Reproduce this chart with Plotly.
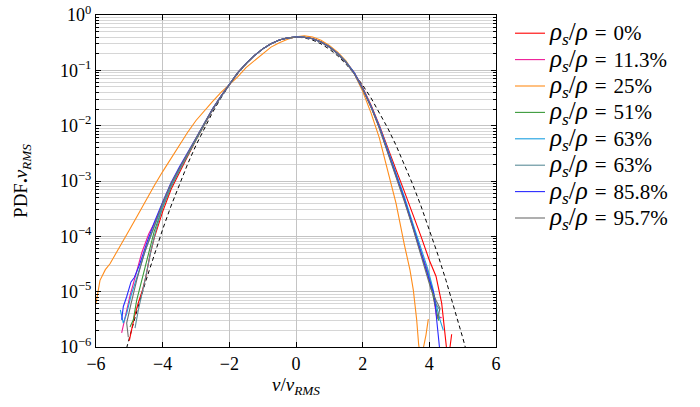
import plotly.graph_objects as go

# ---------------- data ----------------
core_x = [-4.0, -3.75, -3.5, -3.25, -3.0, -2.75, -2.5, -2.25, -2.0, -1.75, -1.5, -1.25,
          -1.0, -0.75, -0.5, -0.25, 0.0, 0.25, 0.5, 0.75, 1.0, 1.25, 1.5, 1.75,
          2.0, 2.25, 2.5, 2.75, 3.0, 3.25, 3.5, 3.75]

labels = ["0%", "11.3%", "25%", "51%", "63%", "63%", "85.8%", "95.7%"]
colors = ["#ff0000", "#ee1a96", "#ff8c1a", "#3a9a3a", "#1a9fe0", "#5b8c99", "#2a2aff", "#6e6e6e"]

# rho_s/rho = 0%
red_left_x = [-5.0, -4.85, -4.73, -4.6, -4.5, -4.38, -4.25]
red_left_y = [1.3e-6, 3.5e-6, 6.3e-6, 1.1e-5, 1.9e-5, 4.6e-5, 9.5e-5]
red_core_y = [2.8e-4, 7.0e-4, 1.45e-3, 2.8e-3, 5.5e-3, 1.05e-2, 1.97e-2, 3.36e-2, 5.6e-2, 9.0e-2, 0.132, 0.184,
              0.244, 0.303, 0.353, 0.386, 0.398, 0.396, 0.374, 0.327, 0.268, 0.203, 0.143, 0.091,
              0.049, 0.0236, 0.0102, 3.9e-3, 1.6e-3, 6.5e-4, 2.6e-4, 1.0e-4]
red_right_x = [4.0, 4.2, 4.37, 4.45, 4.52, 4.6, 4.67]
red_right_y = [3.7e-5, 1.9e-5, 6.2e-6, 2.3e-6, 9e-7, 8e-7, 1.7e-6]

# rho_s/rho = 11.3%
mag_left_x = [-5.23, -5.12, -4.98, -4.83, -4.63, -4.42, -4.2]
mag_left_y = [1.8e-6, 3.8e-6, 8.5e-6, 1.8e-5, 5.0e-5, 1.1e-4, 2.0e-4]
mag_core_y = [3.9e-4, 8.6e-4, 1.65e-3, 3.05e-3, 5.8e-3, 1.08e-2, 2.0e-2, 3.4e-2, 5.6e-2, 9.0e-2, 0.132, 0.184,
              0.244, 0.303, 0.353, 0.386, 0.398, 0.396, 0.373, 0.325, 0.265, 0.200, 0.140, 0.088,
              0.0466, 0.0222, 9.4e-3, 3.55e-3, 1.3e-3, 4.8e-4, 1.6e-4, 5.2e-5]
mag_right_x = [3.95, 4.1, 4.22, 4.37]
mag_right_y = [2.4e-5, 1.0e-5, 3.5e-6, 3.4e-6]

# rho_s/rho = 25%
ora_x = [-6.0, -5.88, -5.72, -5.58, -5.43, -5.28, -5.18, -5.0, -4.75, -4.5, -4.25, -4.0, -3.75, -3.5,
         -3.25, -3.0, -2.75, -2.5, -2.25, -2.0, -1.75, -1.5, -1.25, -1.0, -0.75, -0.5, -0.25, 0.0,
         0.25, 0.5, 0.75, 1.0, 1.25, 1.5, 1.75, 2.0, 2.25, 2.5, 2.75, 3.0, 3.25, 3.42, 3.52, 3.62,
         3.68, 3.73, 3.8, 3.9, 3.97]
ora_y = [6.2e-6, 1.6e-5, 2.5e-5, 3.2e-5, 4.6e-5, 6.5e-5, 8.5e-5, 1.3e-4, 2.4e-4, 4.5e-4, 8.3e-4, 1.48e-3,
         2.57e-3, 4.47e-3, 7.6e-3, 1.24e-2, 1.88e-2, 2.75e-2, 3.98e-2, 5.5e-2, 7.6e-2, 0.112, 0.150,
         0.204, 0.263, 0.316, 0.365, 0.405, 0.420, 0.400, 0.350, 0.282, 0.214, 0.148, 0.087, 0.0417,
         0.0170, 6.0e-3, 1.58e-3, 4.0e-4, 7.1e-5, 2.45e-5, 1.07e-5, 3.1e-6, 1.1e-6, 7.1e-7, 8.3e-7,
         1.66e-6, 3.2e-6]

# rho_s/rho = 51%
grn_left_x = [-4.98, -4.88, -4.78, -4.63, -4.45, -4.25]
grn_left_y = [2.3e-6, 3.1e-6, 7e-6, 1.6e-5, 4.5e-5, 1.25e-4]
grn_core_y = [3.3e-4, 7.8e-4, 1.55e-3, 2.95e-3, 5.7e-3, 1.07e-2, 1.99e-2, 3.38e-2, 5.58e-2, 8.98e-2, 0.131, 0.184,
              0.243, 0.303, 0.352, 0.386, 0.398, 0.396, 0.373, 0.326, 0.266, 0.201, 0.141, 0.089,
              0.0470, 0.0225, 9.5e-3, 3.6e-3, 1.32e-3, 4.8e-4, 1.6e-4, 5.2e-5]
grn_right_x = [3.95, 4.1, 4.2, 4.28]
grn_right_y = [2.0e-5, 9e-6, 5e-6, 3e-6]

# rho_s/rho = 63% (a)
cya_left_x = [-5.27, -5.18, -5.08, -4.95, -4.75, -4.5, -4.25]
cya_left_y = [4.7e-6, 2.7e-6, 4.0e-6, 8.5e-6, 2.0e-5, 6.0e-5, 1.5e-4]
cya_core_y = [3.7e-4, 8.4e-4, 1.63e-3, 3.0e-3, 5.75e-3, 1.08e-2, 2.0e-2, 3.39e-2, 5.6e-2, 9.0e-2, 0.132, 0.184,
              0.244, 0.303, 0.353, 0.386, 0.398, 0.396, 0.373, 0.326, 0.266, 0.202, 0.142, 0.090,
              0.0475, 0.0228, 9.8e-3, 3.75e-3, 1.4e-3, 5.2e-4, 1.75e-4, 5.8e-5]
cya_right_x = [3.95, 4.1, 4.2, 4.32, 4.42]
cya_right_y = [2.6e-5, 1.2e-5, 6e-6, 3.1e-6, 2.0e-6]

# rho_s/rho = 63% (b)
tea_left_x = [-4.83, -4.72, -4.53, -4.35, -4.2]
tea_left_y = [2.2e-6, 5e-6, 1.6e-5, 5.5e-5, 1.3e-4]
tea_core_y = [3.4e-4, 7.9e-4, 1.58e-3, 2.97e-3, 5.7e-3, 1.07e-2, 1.99e-2, 3.38e-2, 5.6e-2, 9.0e-2, 0.132, 0.184,
              0.244, 0.303, 0.353, 0.386, 0.398, 0.395, 0.372, 0.324, 0.264, 0.199, 0.139, 0.087,
              0.0462, 0.0219, 9.2e-3, 3.45e-3, 1.25e-3, 4.5e-4, 1.5e-4, 4.8e-5]
tea_right_x = [3.95, 4.08, 4.2, 4.32]
tea_right_y = [2.2e-5, 1.1e-5, 6e-6, 4.6e-6]

# rho_s/rho = 85.8%
blu_left_x = [-5.23, -5.18, -5.08, -4.95, -4.85, -4.7, -4.48, -4.25]
blu_left_y = [3.1e-6, 5.4e-6, 8.1e-6, 1.5e-5, 1.8e-5, 3.0e-5, 7.5e-5, 1.8e-4]
blu_core_y = [4.2e-4, 9.3e-4, 1.78e-3, 3.2e-3, 6.0e-3, 1.11e-2, 2.03e-2, 3.42e-2, 5.62e-2, 9.02e-2, 0.132, 0.184,
              0.244, 0.303, 0.353, 0.386, 0.398, 0.396, 0.373, 0.325, 0.265, 0.200, 0.140, 0.088,
              0.0466, 0.0222, 9.4e-3, 3.5e-3, 1.3e-3, 4.7e-4, 1.55e-4, 5.0e-5]
blu_right_x = [3.9, 4.0, 4.07, 4.12, 4.17, 4.22, 4.27, 4.32]
blu_right_y = [2.5e-5, 1.5e-5, 1.2e-5, 1.0e-5, 6.5e-6, 3.1e-6, 1.6e-6, 8e-7]

# rho_s/rho = 95.7%
gry_left_x = [-5.03, -5.08, -4.95, -4.78, -4.55, -4.25]
gry_left_y = [1.5e-6, 2.7e-6, 6e-6, 1.6e-5, 5e-5, 1.6e-4]
gry_core_y = [4.0e-4, 9.0e-4, 1.72e-3, 3.15e-3, 5.9e-3, 1.1e-2, 2.02e-2, 3.41e-2, 5.61e-2, 9.0e-2, 0.132, 0.184,
              0.244, 0.303, 0.353, 0.386, 0.398, 0.395, 0.372, 0.324, 0.263, 0.198, 0.138, 0.086,
              0.0458, 0.0216, 9.0e-3, 3.35e-3, 1.2e-3, 4.3e-4, 1.45e-4, 4.5e-5]
gry_right_x = [3.9, 4.05, 4.2, 4.32, 4.25]
gry_right_y = [2.2e-5, 1.1e-5, 7e-6, 5e-6, 3.2e-6]

# reference Gaussian (dashed)
gauss_x = [-5.25, -5.0, -4.75, -4.5, -4.25, -4.0, -3.75, -3.5, -3.25, -3.0, -2.75, -2.5, -2.25, -2.0,
           -1.75, -1.5, -1.25, -1.0, -0.75, -0.5, -0.25, 0.0, 0.25, 0.5, 0.75, 1.0, 1.25, 1.5, 1.75,
           2.0, 2.25, 2.5, 2.75, 3.0, 3.25, 3.5, 3.75, 4.0, 4.25, 4.5, 4.75, 5.0, 5.25]
gauss_y = [4.13e-7, 1.487e-6, 5.03e-6, 1.598e-5, 4.77e-5, 1.338e-4, 3.526e-4, 8.727e-4, 2.029e-3,
           4.432e-3, 9.094e-3, 1.753e-2, 3.174e-2, 5.399e-2, 8.628e-2, 0.1295, 0.1826, 0.2420, 0.3011,
           0.3521, 0.3867, 0.3989, 0.3867, 0.3521, 0.3011, 0.2420, 0.1826, 0.1295, 0.08628, 0.05399,
           0.03174, 0.01753, 9.094e-3, 4.432e-3, 2.029e-3, 8.727e-4, 3.526e-4, 1.338e-4, 4.77e-5,
           1.598e-5, 5.03e-6, 1.487e-6, 4.13e-7]

x_ticks = [-6, -4, -2, 0, 2, 4, 6]
y_ticks = [1e-6, 1e-5, 1e-4, 1e-3, 1e-2, 1e-1, 1]
y_ticktext = ["10<sup>−6</sup>", "10<sup>−5</sup>", "10<sup>−4</sup>", "10<sup>−3</sup>",
              "10<sup>−2</sup>", "10<sup>−1</sup>", "10<sup>0</sup>"]

# ---------------- figure ----------------
series = [
    (red_left_x, red_left_y, red_core_y, red_right_x, red_right_y),
    (mag_left_x, mag_left_y, mag_core_y, mag_right_x, mag_right_y),
    None,
    (grn_left_x, grn_left_y, grn_core_y, grn_right_x, grn_right_y),
    (cya_left_x, cya_left_y, cya_core_y, cya_right_x, cya_right_y),
    (tea_left_x, tea_left_y, tea_core_y, tea_right_x, tea_right_y),
    (blu_left_x, blu_left_y, blu_core_y, blu_right_x, blu_right_y),
    (gry_left_x, gry_left_y, gry_core_y, gry_right_x, gry_right_y),
]

fig = go.Figure()
fig.add_trace(go.Scatter(x=gauss_x, y=gauss_y, mode="lines", showlegend=False,
                         line=dict(color="black", width=1, dash="4px,3px")))

for i, s in enumerate(series):
    if s is None:
        xs, ys = ora_x, ora_y
    else:
        lx, ly, cy, rx, ry = s
        xs = lx + core_x + rx
        ys = ly + cy + ry
    name = ('<span style="font-size:25px"><i>ρ<sub>s</sub></i>/<i>ρ</i></span>'
            '<span style="font-size:21px">\u2004=\u2004' + labels[i] + '</span>')
    fig.add_trace(go.Scatter(x=xs, y=ys, mode="lines", name=name,
                             line=dict(color=colors[i], width=1.1)))

font_family = "'Liberation Serif', 'DejaVu Serif', serif"
fig.update_layout(
    width=700, height=407,
    margin=dict(l=96, r=204, t=15, b=60, autoexpand=False),
    plot_bgcolor="white", paper_bgcolor="white",
    font=dict(family=font_family, size=18, color="black"),
    showlegend=True,
    legend=dict(x=1.035, y=1.0, xanchor="left", yanchor="top",
                font=dict(family=font_family, size=18, color="black"),
                bgcolor="rgba(0,0,0,0)", borderwidth=0),
    xaxis=dict(range=[-6, 6], tickvals=x_ticks, ticks="inside", ticklen=5, tickcolor="black",
               showgrid=True, gridcolor="#c4c4c4", gridwidth=1, zeroline=False,
               showline=True, linecolor="black", linewidth=1, mirror="ticks",
               tickfont=dict(family=font_family, size=18), automargin=False,
               title=dict(text="<i>v</i>/<i>v</i><sub><i>RMS</i></sub>",
                          font=dict(family=font_family, size=19), standoff=5)),
    yaxis=dict(type="log", range=[-6, 0], tickvals=y_ticks, ticktext=y_ticktext,
               ticks="inside", ticklen=5, tickcolor="black",
               showgrid=True, gridcolor="#c4c4c4", gridwidth=1, zeroline=False,
               showline=True, linecolor="black", linewidth=1, mirror="ticks",
               tickfont=dict(family=font_family, size=18), automargin=False,
               minor=dict(ticks="inside", ticklen=3, tickcolor="black", dtick="D1",
                          showgrid=True, gridcolor="#d6d6d6", gridwidth=1),
               title=dict(text="PDF<b>.</b><i>v</i><sub><i>RMS</i></sub>",
                          font=dict(family=font_family, size=19), standoff=27)),
)

fig.write_html("out.html", config={"displayModeBar": False},
               post_script="document.body.style.margin='0';document.body.style.overflow='hidden';")
